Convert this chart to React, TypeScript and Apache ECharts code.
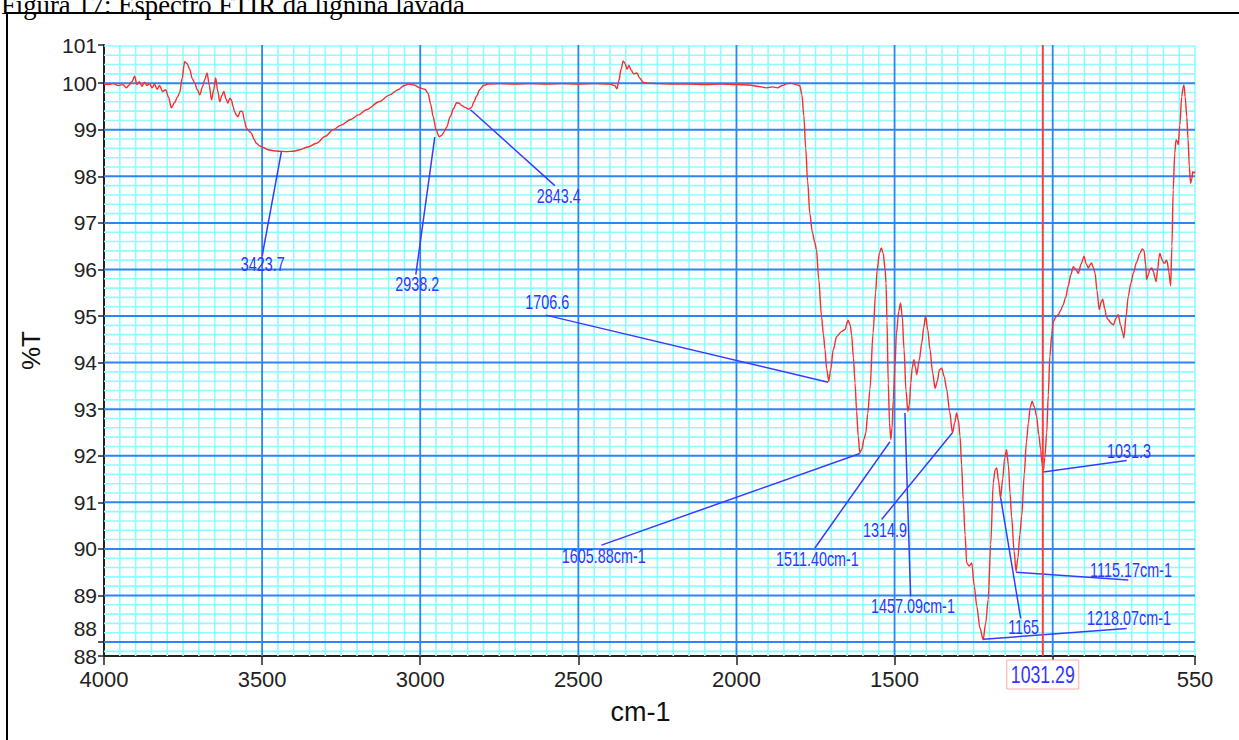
import React, { useEffect, useRef } from "react";
import * as echarts from "echarts";

// ---- spectrum data (cm-1, %T) ----
const wavenumbers = [
  4000, 3985, 3970, 3955, 3940, 3930, 3920, 3912, 3903, 3896, 3888, 3880, 3872, 3864, 3856, 3848, 3840, 3832, 3824, 3815,
  3805, 3796, 3787, 3777, 3768, 3761, 3753, 3745, 3737, 3729, 3721, 3713, 3705, 3697, 3689, 3681, 3674, 3667, 3660, 3653,
  3647, 3640, 3634, 3627, 3621, 3614, 3608, 3602, 3597, 3592, 3587, 3581, 3576, 3569, 3562, 3556, 3550, 3542, 3534, 3526,
  3518, 3507, 3497, 3480, 3465, 3445, 3424, 3400, 3381, 3355, 3328, 3300, 3276, 3250, 3220, 3195, 3170, 3130, 3096, 3070,
  3050, 3038, 3020, 3001, 2985, 2975, 2967, 2959, 2950, 2940, 2932, 2925, 2917, 2905, 2895, 2885, 2877, 2869, 2858, 2846,
  2838, 2830, 2822, 2812, 2800, 2785, 2750, 2700, 2650, 2600, 2550, 2500, 2450, 2400, 2385, 2378, 2372, 2365, 2358, 2352,
  2346, 2340, 2333, 2325, 2315, 2305, 2295, 2285, 2250, 2200, 2150, 2100, 2050, 2000, 1960, 1930, 1905, 1885, 1870, 1855,
  1840, 1825, 1812, 1800, 1793, 1787, 1781, 1775, 1768, 1760, 1753, 1747, 1740, 1731, 1725, 1720, 1715, 1708, 1702, 1694,
  1683, 1667, 1657, 1647, 1640, 1636, 1630, 1625, 1620, 1615, 1610, 1603, 1597, 1591, 1585, 1578, 1568, 1560, 1555, 1548,
  1542, 1536, 1530, 1527, 1524, 1520, 1516, 1512, 1508, 1504, 1499, 1494, 1487, 1481, 1476, 1470, 1464, 1458, 1453, 1449,
  1444, 1439, 1434, 1430, 1422, 1414, 1408, 1402, 1395, 1388, 1380, 1372, 1365, 1358, 1351, 1343, 1335, 1326, 1317, 1310,
  1304, 1298, 1293, 1288, 1283, 1277, 1272, 1264, 1256, 1248, 1240, 1230, 1220, 1212, 1204, 1196, 1188, 1182, 1177, 1171,
  1165, 1158, 1152, 1146, 1140, 1135, 1130, 1122, 1116, 1110, 1104, 1098, 1090, 1083, 1077, 1071, 1065, 1058, 1051, 1044,
  1038, 1034, 1030, 1025, 1019, 1014, 1009, 1003, 998, 990, 982, 975, 967, 959, 951, 943, 935, 927, 919, 910,
  901, 894, 887, 882, 877, 872, 866, 860, 853, 847, 842, 835, 830, 824, 816, 808, 800, 793, 785, 779,
  775, 768, 761, 753, 745, 735, 724, 717, 711, 706, 703, 697, 693, 687, 681, 677, 673, 668, 664, 661,
  655, 649, 645, 641, 638, 633, 627, 623, 619, 614, 610, 606, 603, 598, 592, 588, 585, 581, 576, 572,
  568, 564, 560, 557, 553, 550,
];
const transmittance = [
  99.98, 99.97, 99.99, 99.95, 99.97, 99.9, 99.96, 100.03, 100.15, 99.97, 100.03, 99.93, 100.02, 99.95, 99.99, 99.9, 99.98, 99.87, 99.95, 99.82,
  99.86, 99.7, 99.47, 99.58, 99.7, 99.79, 100.1, 100.46, 100.42, 100.3, 100.1, 100.0, 99.86, 99.75, 99.92, 100.08, 100.22, 99.95, 99.64, 99.86,
  100.11, 99.82, 99.6, 99.74, 99.82, 99.66, 99.57, 99.68, 99.64, 99.5, 99.39, 99.31, 99.28, 99.4, 99.39, 99.2, 99.04, 98.97, 98.93, 98.8,
  98.71, 98.65, 98.62, 98.57, 98.55, 98.54, 98.53, 98.54, 98.57, 98.63, 98.71, 98.86, 99.0, 99.1, 99.22, 99.32, 99.43, 99.6, 99.75, 99.86,
  99.95, 99.98, 99.96, 99.9, 99.87, 99.78, 99.55, 99.28, 99.0, 98.85, 98.88, 98.95, 99.05, 99.28, 99.45, 99.58, 99.57, 99.52, 99.48, 99.44,
  99.48, 99.6, 99.72, 99.86, 99.95, 99.98, 99.99, 99.98, 99.99, 99.98, 99.99, 99.98, 99.99, 99.98, 99.95, 99.88, 100.05, 100.3, 100.48, 100.42,
  100.3, 100.38, 100.28, 100.2, 100.22, 100.1, 100.02, 100.0, 99.99, 99.98, 99.98, 99.97, 99.98, 99.97, 99.96, 99.93, 99.9, 99.92, 99.9, 99.95,
  99.99, 100.0, 99.97, 99.95, 99.75, 99.3, 98.6, 97.9, 97.2, 96.8, 96.6, 96.42, 95.8, 94.99, 94.6, 94.28, 93.87, 93.6, 93.85, 94.28,
  94.56, 94.67, 94.71, 94.91, 94.8, 94.6, 94.1, 93.56, 92.95, 92.42, 92.06, 92.15, 92.35, 92.49, 92.9, 93.42, 94.64, 95.5, 95.99, 96.35,
  96.46, 96.35, 96.0, 95.71, 94.9, 93.56, 92.7, 92.35, 92.6, 93.2, 93.9, 94.64, 95.1, 95.28, 95.0, 94.28, 93.4, 92.95, 93.1, 93.56,
  93.9, 94.06, 93.9, 93.74, 94.05, 94.42, 94.75, 95.0, 94.7, 94.28, 93.8, 93.45, 93.6, 93.85, 93.88, 93.7, 93.42, 92.95, 92.49, 92.7,
  92.92, 92.75, 92.42, 91.8, 91.06, 90.3, 89.7, 89.63, 89.7, 89.2, 88.77, 88.3, 88.05, 88.4, 88.91, 90.1, 91.42, 91.7, 91.74, 91.45,
  91.09, 91.5, 91.95, 92.13, 91.8, 91.2, 90.7, 89.95, 89.52, 89.8, 90.3, 90.7, 91.6, 92.3, 92.7, 93.05, 93.17, 93.05, 92.85, 92.45,
  92.13, 91.85, 91.67, 91.95, 92.49, 93.3, 94.13, 94.6, 94.88, 94.98, 95.03, 95.12, 95.24, 95.4, 95.64, 95.88, 96.06, 96.0, 95.92, 96.12,
  96.28, 96.12, 96.03, 96.1, 96.14, 96.05, 95.92, 95.55, 95.14, 95.3, 95.36, 95.15, 94.98, 94.92, 94.85, 94.81, 94.95, 95.03, 94.8, 94.65,
  94.53, 95.0, 95.42, 95.7, 95.92, 96.15, 96.35, 96.44, 96.4, 96.1, 95.78, 95.9, 96.0, 96.03, 95.95, 95.82, 95.74, 96.0, 96.25, 96.35,
  96.22, 96.14, 96.14, 96.2, 96.17, 95.95, 95.65, 96.5, 97.71, 98.5, 98.78, 98.75, 98.68, 99.1, 99.71, 99.9, 99.96, 99.7, 99.28, 98.8,
  98.21, 97.85, 97.95, 98.1, 98.07, 98.1,
];

// ---- axis ticks / labels ----
const xTickValues = [4000, 3500, 3000, 2500, 2000, 1500, 1000, 550];
const yTickValues = [87.7, 88, 89, 90, 91, 92, 93, 94, 95, 96, 97, 98, 99, 100, 100.82];
const xMin = 550;
const xMax = 4000;
const yMin = 87.7;
const yMax = 100.82;

// ---- peak annotations ----
const peakLabels = ["3423.7", "2938.2", "2843.4", "1706.6", "1605.88cm-1", "1511.40cm-1", "1314.9", "1457.09cm-1", "1165", "1218.07cm-1", "1115.17cm-1", "1031.3"];
const peakAnchorX = [3439, 2954, 2841, 1710, 1609.6, 1514.7, 1317.7, 1467.3, 1164.6, 1219.6, 1116.2, 1030];
const peakAnchorY = [98.53, 98.84, 99.43, 93.58, 92.05, 92.3, 92.49, 92.92, 91.1, 88.06, 89.5, 91.65];
const leaderEndX = [3499.6, 3014, 2574.4, 2603, 2426.7, 1752, 1541, 1449.3, 1101.3, 766, 761, 766];
const leaderEndY = [96.3, 95.89, 97.8, 95.02, 90.08, 90.02, 90.63, 88.98, 88.51, 88.29, 89.33, 91.9];
const labelX = [3498, 3009.3, 2561.7, 2598, 2419.4, 1744, 1530.5, 1442, 1091.9, 758.8, 752.4, 758.8];
const labelY = [96.12, 95.69, 97.57, 95.29, 89.84, 89.77, 90.4, 88.78, 88.31, 88.51, 89.55, 92.11];

const cursorValue = 1031.29;
const caption = "Figura 17: Espectro FTIR da lignina lavada";
const xName = "cm-1";
const yName = "%T";

const SANS = "'Liberation Sans', Arial, sans-serif";

function buildGrid() {
  const hMinor: number[][] = [];
  const hMajor: number[][] = [];
  const vMinor: number[][] = [];
  const vMajor: number[][] = [];
  for (let i = 0; i <= 65; i++) {
    const v = Math.round((87.8 + i * 0.2) * 10) / 10;
    if (v > yMax) break;
    if (Math.abs(v - Math.round(v)) < 1e-6) hMajor.push([xMin, v]);
    else hMinor.push([xMin, v]);
  }
  for (let v = 550; v < 4000; v += 50) {
    if (v % 500 === 0) vMajor.push([v, yMin]);
    else vMinor.push([v, yMin]);
  }
  return { hMinor, hMajor, vMinor, vMajor };
}

function lineRenderer(horizontal: boolean, color: string, width: number) {
  return (params: any, api: any) => {
    let p1, p2;
    if (horizontal) {
      const y = api.value(1);
      p1 = api.coord([xMax, y]);
      p2 = api.coord([xMin, y]);
    } else {
      const x = api.value(0);
      p1 = api.coord([x, yMin]);
      p2 = api.coord([x, yMax]);
    }
    return {
      type: "line",
      shape: { x1: p1[0], y1: p1[1], x2: p2[0], y2: p2[1] },
      style: { stroke: color, lineWidth: width },
      silent: true,
    };
  };
}

export default function App() {
  const ref = useRef<HTMLDivElement>(null);
  useEffect(() => {
    if (!ref.current) return;
    const chart = echarts.init(ref.current, null, { renderer: "svg" });
    const g = buildGrid();
    const cyan = "#8ffcff";
    const blue = "#2a86f5";
    const spectrum = wavenumbers.map((w, i) => [w, transmittance[i]]);
    const leaders = peakLabels.map((_, i) => ({
      coords: [
        [peakAnchorX[i], peakAnchorY[i]],
        [leaderEndX[i], leaderEndY[i]],
      ],
    }));
    const labels = peakLabels.map((t, i) => [labelX[i], labelY[i]]);

    chart.setOption({
      animation: false,
      backgroundColor: "#ffffff",
      grid: { left: 104, right: 44, top: 45, bottom: 84 },
      xAxis: {
        type: "value",
        min: xMin,
        max: xMax,
        inverse: true,
        name: xName,
        nameLocation: "middle",
        nameGap: 42,
        nameTextStyle: { fontSize: 27, color: "#111", fontFamily: SANS, padding: [0, 18, 0, 0] },
        axisLine: { show: true, onZero: false, lineStyle: { color: "#222", width: 2 } },
        axisTick: { show: true, customValues: xTickValues, length: 9, lineStyle: { color: "#222", width: 1.5 } },
        axisLabel: {
          customValues: xTickValues,
          showMinLabel: true,
          showMaxLabel: true,
          fontSize: 22,
          color: "#222",
          margin: 12,
          fontFamily: SANS,
          formatter: (v: number) => String(v),
        },
        splitLine: { show: false },
      },
      yAxis: {
        type: "value",
        min: yMin,
        max: yMax,
        name: yName,
        nameLocation: "middle",
        nameRotate: 90,
        nameGap: 60,
        nameTextStyle: { fontSize: 26, color: "#111", fontFamily: SANS },
        axisLine: { show: true, onZero: false, lineStyle: { color: "#222", width: 2 } },
        axisTick: { show: true, customValues: yTickValues, length: 6, lineStyle: { color: "#222", width: 1.5 } },
        axisLabel: {
          customValues: yTickValues,
          showMinLabel: true,
          showMaxLabel: true,
          fontSize: 21,
          color: "#222",
          margin: 7,
          fontFamily: SANS,
          formatter: (v: number) => (v === 88 ? "{up|88}" : String(Math.round(v))),
          rich: { up: { fontSize: 21, color: "#222", fontFamily: SANS, padding: [0, 0, 28, 0] } },
        },
        splitLine: { show: false },
      },
      graphic: [
        {
          type: "rect",
          shape: { x: 7, y: 13, width: 1400, height: 900 },
          style: { fill: "none", stroke: "#000", lineWidth: 2 },
          silent: true,
        },
        {
          type: "text",
          x: 1,
          y: 18,
          style: {
            text: caption,
            font: "26.7px 'Liberation Serif', 'Times New Roman', serif",
            fill: "#000",
            verticalAlign: "bottom",
          },
          silent: true,
        },
      ],
      series: [
        { type: "custom", silent: true, z: 1, clip: false, data: g.hMinor, renderItem: lineRenderer(true, cyan, 1.6) },
        { type: "custom", silent: true, z: 1, clip: false, data: g.vMinor, renderItem: lineRenderer(false, cyan, 1.6) },
        { type: "custom", silent: true, z: 2, clip: false, data: g.hMajor, renderItem: lineRenderer(true, blue, 2) },
        { type: "custom", silent: true, z: 2, clip: false, data: g.vMajor, renderItem: lineRenderer(false, blue, 1.8) },
        {
          type: "line",
          z: 5,
          data: spectrum,
          showSymbol: false,
          symbol: "none",
          smooth: 0.3,
          smoothMonotone: "x",
          lineStyle: { color: "#ff2b2b", width: 1.4 },
          silent: true,
        },
        {
          type: "lines",
          coordinateSystem: "cartesian2d",
          z: 6,
          silent: true,
          data: leaders,
          lineStyle: { color: "#3a3aff", width: 1.5, opacity: 1 },
        },
        {
          type: "custom",
          z: 7,
          silent: true,
          clip: false,
          data: labels,
          renderItem: (params: any, api: any) => {
            const p = api.coord([api.value(0), api.value(1)]);
            return {
              type: "text",
              x: p[0],
              y: p[1],
              scaleX: 0.72,
              silent: true,
              style: {
                text: peakLabels[params.dataIndex],
                fill: "#3434ff",
                font: "20px " + SANS,
                align: "center",
                verticalAlign: "middle",
              },
            };
          },
        },
        {
          type: "custom",
          z: 8,
          silent: true,
          clip: false,
          data: [[cursorValue, yMin]],
          renderItem: (params: any, api: any) => {
            const b = api.coord([api.value(0), yMin]);
            const t = api.coord([api.value(0), yMax]);
            return {
              type: "group",
              children: [
                {
                  type: "line",
                  shape: { x1: b[0], y1: b[1], x2: t[0], y2: t[1] },
                  style: { stroke: "#ff3c3c", lineWidth: 2 },
                },
                {
                  type: "rect",
                  shape: { x: b[0] - 36, y: b[1] + 4, width: 72, height: 29 },
                  style: { fill: "#ffffff", stroke: "#ffa8a8", lineWidth: 1 },
                },
                {
                  type: "text",
                  x: b[0],
                  y: b[1] + 19,
                  scaleX: 0.77,
                  style: {
                    text: String(cursorValue),
                    fill: "#3535ff",
                    font: "23px " + SANS,
                    align: "center",
                    verticalAlign: "middle",
                  },
                },
              ],
            };
          },
        },
      ],
    });
    return () => chart.dispose();
  }, []);
  return (
    <div
      ref={ref}
      style={{ position: "fixed", left: 0, top: 0, width: 1239, height: 740, background: "#fff" }}
    />
  );
}
